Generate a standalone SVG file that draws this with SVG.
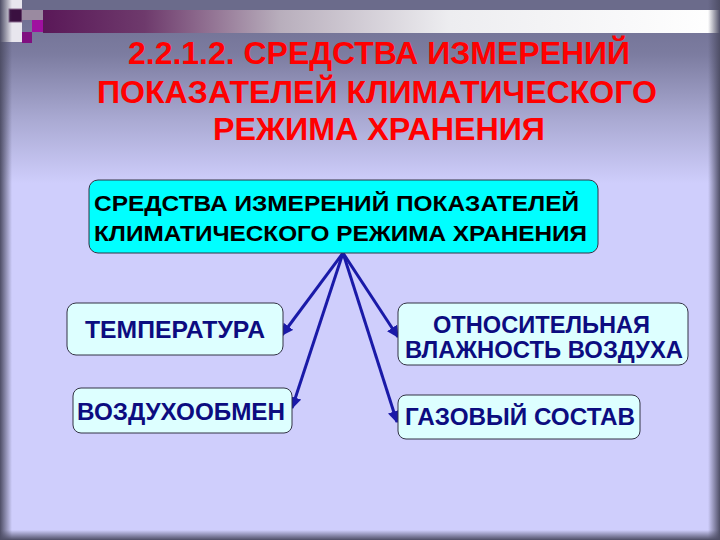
<svg xmlns="http://www.w3.org/2000/svg" width="720" height="540" viewBox="0 0 720 540">
<defs>
<linearGradient id="bgv" x1="0" y1="0" x2="0" y2="1">
<stop offset="0" stop-color="#6c6c8e"/>
<stop offset="0.1" stop-color="#7c7ca0"/>
<stop offset="0.22" stop-color="#a9a9d2"/>
<stop offset="0.34" stop-color="#cfcefc"/>
<stop offset="1" stop-color="#cfcefc"/>
</linearGradient>
<linearGradient id="bar" x1="0" y1="0" x2="1" y2="0">
<stop offset="0" stop-color="#5a1858"/>
<stop offset="0.15" stop-color="#6e3a6c"/>
<stop offset="0.35" stop-color="#b8aebc"/>
<stop offset="0.6" stop-color="#ededf0"/>
<stop offset="1" stop-color="#ffffff"/>
</linearGradient>
<linearGradient id="edgeL" x1="0" y1="0" x2="1" y2="0">
<stop offset="0" stop-color="#4e4e66" stop-opacity="1"/>
<stop offset="1" stop-color="#4e4e66" stop-opacity="0"/>
</linearGradient>
<linearGradient id="edgeR" x1="1" y1="0" x2="0" y2="0">
<stop offset="0" stop-color="#4e4e66" stop-opacity="1"/>
<stop offset="1" stop-color="#4e4e66" stop-opacity="0"/>
</linearGradient>
<linearGradient id="edgeB" x1="0" y1="1" x2="0" y2="0">
<stop offset="0" stop-color="#4e4e66" stop-opacity="1"/>
<stop offset="1" stop-color="#4e4e66" stop-opacity="0"/>
</linearGradient>
<marker id="ah" viewBox="0 0 10 10" refX="9" refY="5" markerWidth="4" markerHeight="4" orient="auto" markerUnits="strokeWidth">
<path d="M0,0 L10,5 L0,10 z" fill="#1a1aa8"/>
</marker>
<style>
.title{font-family:"Liberation Sans",Arial,sans-serif;font-weight:bold;font-size:32px;fill:#ff0000;text-anchor:middle}
.main{fill:#00ffff;stroke:#333344;stroke-width:1}
.mtxt{font-family:"Liberation Sans",Arial,sans-serif;font-weight:bold;font-size:22px;fill:#000000}
.child{fill:#ddffff;stroke:#333344;stroke-width:1}
.ctxt{font-family:"Liberation Sans",Arial,sans-serif;font-weight:bold;font-size:23px;fill:#0c0c80}
.conn{stroke:#1a1aa8;stroke-width:3;fill:none;marker-end:url(#ah)}
</style>
</defs>
<rect x="0" y="0" width="720" height="540" fill="url(#bgv)"/>
<rect x="0" y="0" width="720" height="10" fill="#6b6b8b"/>
<rect x="43" y="10" width="677" height="23" fill="url(#bar)"/>
<rect x="0" y="0" width="22" height="42" fill="#e8e6ee"/>
<rect x="9" y="9" width="13" height="13" fill="#3a1040" stroke="#8a6a90" stroke-width="1"/>
<rect x="22" y="10" width="21" height="10" fill="#9a8aa0"/>
<rect x="32" y="20" width="11" height="12" fill="#a010a0"/>
<rect x="22" y="32" width="10" height="11" fill="#801080"/>
<rect x="0" y="0" width="12" height="540" fill="url(#edgeL)"/>
<rect x="708" y="0" width="12" height="540" fill="url(#edgeR)"/>
<rect x="0" y="530" width="720" height="10" fill="url(#edgeB)"/>
<g id="title">
<text class="title" x="379" y="64" textLength="502" lengthAdjust="spacingAndGlyphs">2.2.1.2. СРЕДСТВА ИЗМЕРЕНИЙ</text>
<text class="title" x="377" y="103" textLength="560" lengthAdjust="spacingAndGlyphs">ПОКАЗАТЕЛЕЙ КЛИМАТИЧЕСКОГО</text>
<text class="title" x="379" y="140" textLength="332" lengthAdjust="spacingAndGlyphs">РЕЖИМА ХРАНЕНИЯ</text>
</g>
<g id="connectors">
<line class="conn" x1="343" y1="253" x2="282" y2="335"/>
<line class="conn" x1="343" y1="253" x2="292" y2="408"/>
<line class="conn" x1="343" y1="253" x2="398" y2="337"/>
<line class="conn" x1="343" y1="253" x2="397" y2="422"/>
</g>
<g id="root">
<rect class="main" x="89" y="180" width="509" height="73" rx="9"/>
<text class="mtxt" x="94" y="211" textLength="485" lengthAdjust="spacingAndGlyphs">СРЕДСТВА ИЗМЕРЕНИЙ ПОКАЗАТЕЛЕЙ</text>
<text class="mtxt" x="94" y="241" textLength="493" lengthAdjust="spacingAndGlyphs">КЛИМАТИЧЕСКОГО РЕЖИМА ХРАНЕНИЯ</text>
</g>
<g id="temperatura">
<rect class="child" x="67" y="303" width="216" height="52" rx="9"/>
<text class="ctxt" x="85" y="338" textLength="180" lengthAdjust="spacingAndGlyphs">ТЕМПЕРАТУРА</text>
</g>
<g id="vozduhoobmen">
<rect class="child" x="73" y="388" width="219" height="45" rx="8"/>
<text class="ctxt" x="77" y="420" textLength="208" lengthAdjust="spacingAndGlyphs">ВОЗДУХООБМЕН</text>
</g>
<g id="vlazhnost">
<rect class="child" x="398" y="303" width="290" height="62" rx="9"/>
<text class="ctxt" x="433" y="333" textLength="217" lengthAdjust="spacingAndGlyphs">ОТНОСИТЕЛЬНАЯ</text>
<text class="ctxt" x="405" y="358" textLength="278" lengthAdjust="spacingAndGlyphs">ВЛАЖНОСТЬ ВОЗДУХА</text>
</g>
<g id="gazovyi">
<rect class="child" x="398" y="395" width="242" height="44" rx="8"/>
<text class="ctxt" x="405" y="425" textLength="230" lengthAdjust="spacingAndGlyphs">ГАЗОВЫЙ СОСТАВ</text>
</g>
</svg>
